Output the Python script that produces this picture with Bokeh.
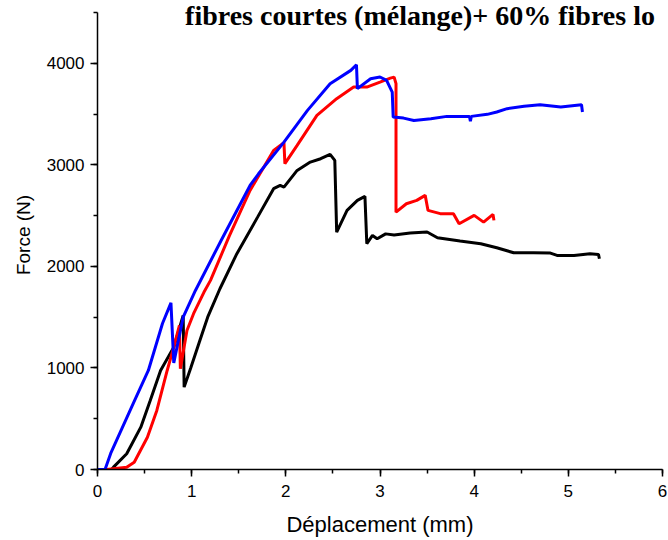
from bokeh.plotting import figure
from bokeh.models import Range1d, SingleIntervalTicker, Label
from bokeh.embed import file_html
from bokeh.resources import INLINE

# Blue specimen
blue_x = [0, 0.08, 0.14, 0.38, 0.54, 0.69, 0.78, 0.81, 0.91, 1.04, 1.31, 1.62, 1.71, 1.91, 1.98,
          2.23, 2.47, 2.69, 2.75, 2.76, 2.90, 3.00, 3.07, 3.13, 3.14, 3.25, 3.36, 3.54, 3.71, 3.95,
          3.96, 3.97, 4.14, 4.24, 4.35, 4.53, 4.70, 4.92, 5.14, 5.15]
blue_y = [0, 0, 158, 650, 975, 1438, 1640, 1050, 1500, 1763, 2250, 2797, 2912, 3142, 3224,
          3536, 3799, 3930, 3986, 3750, 3848, 3865, 3832, 3716, 3470, 3460, 3437, 3454, 3477, 3477,
          3430, 3477, 3497, 3520, 3553, 3576, 3592, 3569, 3592, 3520]

# Red specimen
red_x = [0, 0.10, 0.31, 0.39, 0.53, 0.63, 0.74, 0.81, 0.87, 0.88, 0.95, 1.02, 1.13, 1.20, 1.40,
         1.62, 1.87, 1.98, 1.99, 2.12, 2.33, 2.54, 2.72, 2.86, 3.00, 3.11, 3.15, 3.17, 3.17, 3.28,
         3.39, 3.48, 3.51, 3.64, 3.78, 3.84, 4.00, 4.10, 4.20, 4.21]
red_y = [0, 0, 23, 72, 318, 581, 975, 1205, 1418, 992, 1369, 1534, 1745, 1862, 2300,
         2748, 3142, 3218, 3011, 3191, 3487, 3651, 3766, 3766, 3815, 3854, 3864, 3800, 2534, 2617,
         2650, 2699, 2551, 2519, 2519, 2420, 2502, 2436, 2512, 2453]

# Black specimen
black_x = [0, 0.15, 0.17, 0.31, 0.46, 0.56, 0.67, 0.81, 0.91, 0.92, 0.99, 1.08, 1.17, 1.30, 1.48,
           1.70, 1.87, 1.94, 1.98, 2.12, 2.26, 2.37, 2.47, 2.52, 2.54, 2.65, 2.76, 2.84, 2.86, 2.92,
           2.97, 3.06, 3.15, 3.32, 3.50, 3.61, 3.85, 4.07, 4.24, 4.42, 4.63, 4.81, 4.88, 5.06, 5.23,
           5.32, 5.33]
black_y = [0, 0, 23, 155, 417, 680, 975, 1205, 1517, 811, 1000, 1250, 1500, 1780, 2125,
           2485, 2765, 2797, 2781, 2945, 3027, 3060, 3103, 3044, 2337, 2551, 2650, 2689, 2223, 2305,
           2272, 2320, 2310, 2328, 2338, 2282, 2249, 2223, 2184, 2134, 2134, 2131, 2108, 2108, 2124,
           2118, 2075]

# Title as visible in the (cropped) reference
title_text = "fibres courtes (mélange)+ 60% fibres lo"
x_label = "Déplacement (mm)"
y_label = "Force (N)"

Y_AXIS_MAX = 4500
Y_VIEW_MAX = 4618  # frame runs to the top edge; axis line stops at 4500

p = figure(width=668, height=540, output_backend="svg", toolbar_location=None,
           x_range=Range1d(0, 6), y_range=Range1d(0, Y_VIEW_MAX),
           min_border_left=97, min_border_right=6, min_border_top=0, min_border_bottom=71)
p.outline_line_color = None
p.xgrid.visible = False
p.ygrid.visible = False
p.background_fill_color = "white"
p.border_fill_color = "white"

p.line(black_x, black_y, line_color="black", line_width=3)
p.line(red_x, red_y, line_color="#ff0000", line_width=3)
p.line(blue_x, blue_y, line_color="#0000ff", line_width=3)

for ax, tick in ((p.xaxis[0], SingleIntervalTicker(interval=1, num_minor_ticks=2)),
                 (p.yaxis[0], SingleIntervalTicker(interval=1000, num_minor_ticks=2))):
    ax.ticker = tick
    ax.axis_line_color = "black"
    ax.axis_line_width = 1.5
    ax.major_tick_line_color = "black"
    ax.major_tick_line_width = 1.5
    ax.minor_tick_line_color = "black"
    ax.minor_tick_line_width = 1.5
    ax.major_tick_in = 0
    ax.major_tick_out = 7
    ax.minor_tick_in = 0
    ax.minor_tick_out = 4
    ax.major_label_text_font = "Liberation Sans"
    ax.major_label_text_font_size = "17px"
    ax.major_label_text_color = "black"
    ax.axis_label_text_font = "Liberation Sans"
    ax.axis_label_text_font_style = "normal"
    ax.axis_label_text_color = "black"

p.yaxis.bounds = (0, Y_AXIS_MAX)
p.xaxis.axis_label = x_label
p.yaxis.axis_label = y_label
p.xaxis.axis_label_text_font_size = "22px"
p.yaxis.axis_label_text_font_size = "19px"
p.xaxis.major_label_standoff = 8
p.xaxis.axis_label_standoff = 12
p.yaxis.major_label_standoff = 6
p.yaxis.axis_label_standoff = 10

p.add_layout(Label(x=0.93, y=4475, text=title_text, text_font="Liberation Serif",
                   text_font_style="bold", text_font_size="28px", text_color="black",
                   text_baseline="alphabetic", text_align="left"))

open("out.html", "w").write(file_html(p, INLINE))
